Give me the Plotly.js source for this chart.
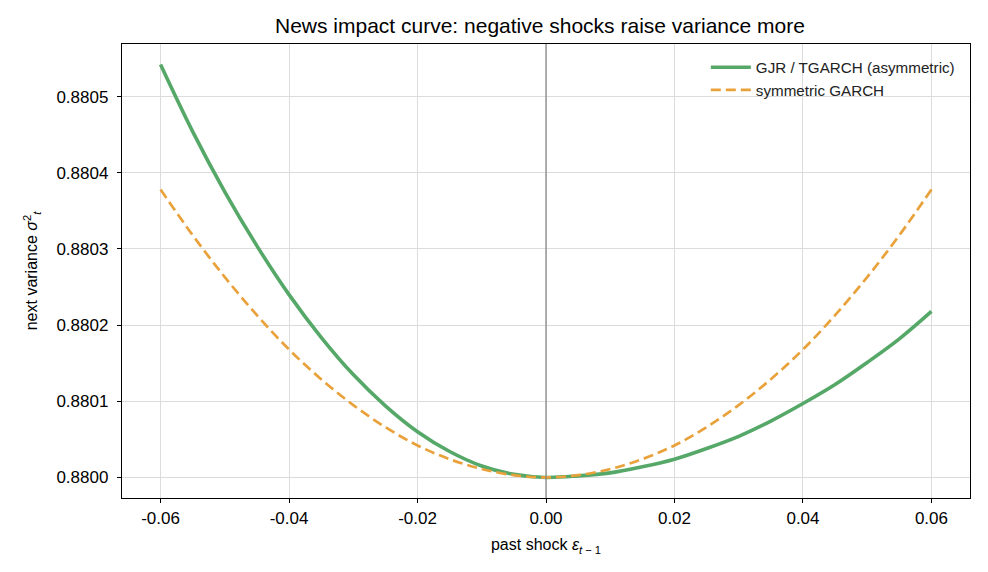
<!DOCTYPE html>
<html>
<head>
<meta charset="utf-8">
<script src="https://cdn.plot.ly/plotly-3.0.1.min.js"></script>
<style>
  html, body { margin: 0; padding: 0; background: #fff; }
  #chart { width: 988px; height: 572px; }
</style>
</head>
<body>
<div id="chart"></div>
<script>
// Past shock values on the horizontal axis
const shock = [-0.060, -0.055, -0.050, -0.045, -0.040, -0.035, -0.030, -0.025, -0.020, -0.015, -0.010, -0.005,
               0.000, 0.005, 0.010, 0.015, 0.020, 0.025, 0.030, 0.035, 0.040, 0.045, 0.050, 0.055, 0.060];

// Next-period variance under the asymmetric (GJR / TGARCH) model
const gjrVariance = [0.880542, 0.880454, 0.880375, 0.880304, 0.880240, 0.880184, 0.880135, 0.880094, 0.880060, 0.880034, 0.880015, 0.880004,
                     0.880000, 0.880002, 0.880006, 0.880014, 0.880024, 0.880038, 0.880054, 0.880074, 0.880097, 0.880122, 0.880151, 0.880182, 0.880218];

// Next-period variance under the symmetric GARCH model
const garchVariance = [0.880378, 0.880318, 0.880263, 0.880213, 0.880168, 0.880129, 0.880095, 0.880066, 0.880042, 0.880024, 0.880011, 0.880003,
                       0.880000, 0.880003, 0.880011, 0.880024, 0.880042, 0.880066, 0.880095, 0.880129, 0.880168, 0.880213, 0.880263, 0.880318, 0.880378];

// Axis ticks and their labels
const xTicks = [-0.06, -0.04, -0.02, 0.00, 0.02, 0.04, 0.06];
const xTickLabels = ['-0.06', '-0.04', '-0.02', '0.00', '0.02', '0.04', '0.06'];
const yTicks = [0.8800, 0.8801, 0.8802, 0.8803, 0.8804, 0.8805];
const yTickLabels = ['0.8800', '0.8801', '0.8802', '0.8803', '0.8804', '0.8805'];

const font = 'Liberation Sans, Arial, sans-serif';

const traces = [
  {
    x: shock, y: gjrVariance, type: 'scatter', mode: 'lines',
    name: 'GJR / TGARCH (asymmetric)',
    line: { color: '#55a868', width: 3.6, shape: 'spline', smoothing: 1 }
  },
  {
    x: shock, y: garchVariance, type: 'scatter', mode: 'lines',
    name: 'symmetric GARCH',
    line: { color: '#e9a23b', width: 2.7, dash: '10px,5px', shape: 'spline', smoothing: 1 }
  }
];

const axisCommon = {
  showline: true, linecolor: '#000', linewidth: 1.2, mirror: true,
  ticks: 'outside', ticklen: 4, tickwidth: 1, tickcolor: '#000',
  showgrid: true, gridcolor: '#dcdcdc', gridwidth: 1,
  zeroline: false,
  tickfont: { family: font, size: 17, color: '#000' }
};

const layout = {
  width: 988, height: 572,
  margin: { l: 122, r: 18, t: 44, b: 74 },
  paper_bgcolor: '#fff', plot_bgcolor: '#fff',
  font: { family: font, color: '#000' },
  title: {
    text: 'News impact curve: negative shocks raise variance more',
    font: { family: font, size: 21, color: '#000' },
    x: 0.5465, xanchor: 'center', y: 0.955, yanchor: 'middle'
  },
  xaxis: Object.assign({}, axisCommon, {
    range: [-0.066, 0.066],
    tickvals: xTicks, ticktext: xTickLabels,
    title: { text: 'past shock <i>ε</i><sub><i>t</i> − 1</sub>', font: { family: font, size: 16, color: '#000' }, standoff: 12 }
  }),
  yaxis: Object.assign({}, axisCommon, {
    range: [0.879973, 0.880569],
    tickvals: yTicks, ticktext: yTickLabels,
    ticklabelstandoff: 5,
    title: { text: 'next variance <i>σ</i><sup>2</sup><sub><i>t</i></sub>', font: { family: font, size: 16, color: '#000' }, standoff: 14 }
  }),
  shapes: [
    { type: 'line', xref: 'x', yref: 'paper', x0: 0, x1: 0, y0: 0, y1: 1,
      line: { color: '#808080', width: 1.2 }, layer: 'above' }
  ],
  legend: {
    x: 0.988, xanchor: 'right', y: 0.985, yanchor: 'top',
    bgcolor: 'rgba(255,255,255,0)', borderwidth: 0,
    font: { family: font, size: 15.2, color: '#222' },
    itemwidth: 40, tracegroupgap: 2
  },
  showlegend: true
};

Plotly.newPlot('chart', traces, layout, { displayModeBar: false, staticPlot: true });
</script>
</body>
</html>
